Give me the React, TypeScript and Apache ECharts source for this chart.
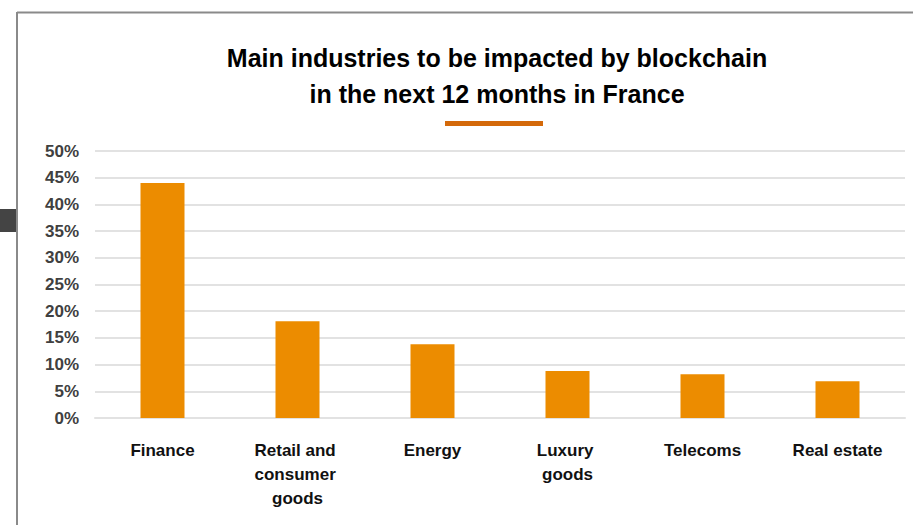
import React, { useEffect, useRef } from "react";
import * as echarts from "echarts";

const categories = ["Finance", "Retail and consumer goods", "Energy", "Luxury goods", "Telecoms", "Real estate"];
const values = [44, 18.1, 13.8, 8.8, 8.2, 6.9];
const titleLines = ["Main industries to be impacted by blockchain", "in the next 12 months in France"];

export default function App() {
  const ref = useRef<HTMLDivElement>(null);
  useEffect(() => {
    if (!ref.current) return;
    const chart = echarts.init(ref.current, undefined, { renderer: "svg" });
    const font = "'Liberation Sans', Arial, sans-serif";
    chart.setOption({
      animation: false,
      backgroundColor: "#ffffff",
      title: {
        text: titleLines.join("\n"),
        left: 492,
        top: 35,
        textAlign: "center",
        textStyle: {
          fontFamily: font,
          fontSize: 25,
          fontWeight: "bold",
          color: "#000000",
          lineHeight: 36,
        },
      },
      grid: { left: 95, right: 8, top: 151, bottom: 107, containLabel: false },
      xAxis: {
        type: "category",
        data: categories,
        axisLine: { show: true, lineStyle: { color: "#e2e2e2", width: 2 } },
        axisTick: { show: false },
        axisLabel: {
          fontFamily: font,
          fontSize: 17,
          fontWeight: "bold",
          color: "#111111",
          margin: 20,
          lineHeight: 24,
          width: 100,
          overflow: "break",
          interval: 0,
        },
      },
      yAxis: {
        type: "value",
        min: 0,
        max: 50,
        interval: 5,
        axisLine: { show: false },
        axisTick: { show: false },
        splitLine: { show: true, lineStyle: { color: "#e2e2e2", width: 2 } },
        axisLabel: {
          formatter: "{value}%",
          fontFamily: font,
          fontSize: 17,
          fontWeight: "bold",
          color: "#404040",
          margin: 16,
        },
      },
      series: [
        {
          type: "bar",
          data: values,
          barWidth: 44,
          itemStyle: { color: "#EC8C00" },
        },
      ],
      graphic: [
        { type: "line", shape: { x1: 17, y1: 12.5, x2: 913, y2: 12.5 }, style: { stroke: "#8a8a8a", lineWidth: 2 } },
        { type: "line", shape: { x1: 17, y1: 12, x2: 17, y2: 525 }, style: { stroke: "#8a8a8a", lineWidth: 2 } },
        { type: "rect", shape: { x: 0, y: 209, width: 16, height: 23 }, style: { fill: "#444444" } },
        { type: "rect", shape: { x: 445, y: 121, width: 98, height: 5 }, style: { fill: "#D4690A" } },
      ],
    });
    return () => chart.dispose();
  }, []);
  return (
    <div
      ref={ref}
      style={{ position: "fixed", left: 0, top: 0, width: 913, height: 525 }}
    />
  );
}
